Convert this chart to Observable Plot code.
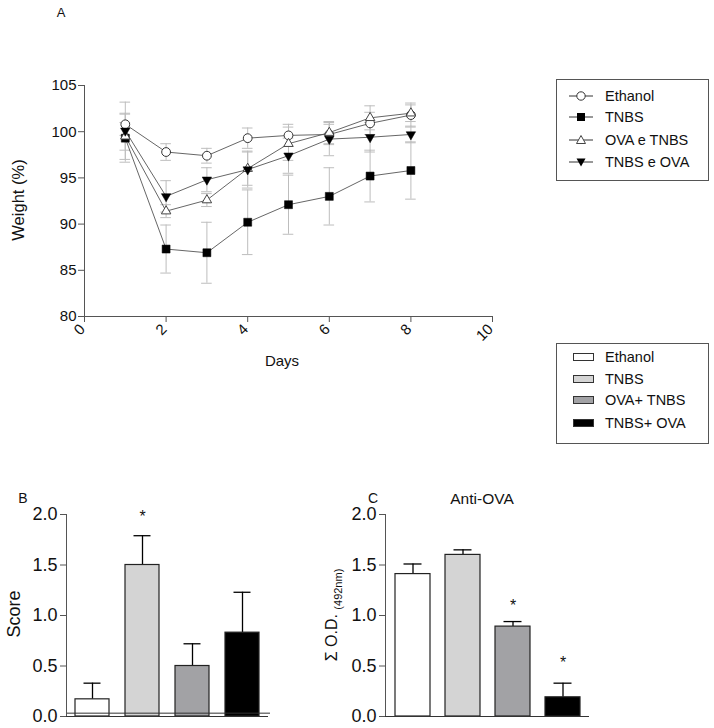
<!DOCTYPE html>
<html><head><meta charset="utf-8">
<script src="https://cdn.jsdelivr.net/npm/d3@7"></script>
<script src="https://cdn.jsdelivr.net/npm/@observablehq/plot@0.6"></script>
<style>
body{margin:0;background:#fff;font-family:"Liberation Sans",Arial,sans-serif;}
#root{position:relative;width:714px;height:728px;overflow:hidden;background:#fff;}
.abs{position:absolute;white-space:nowrap;color:#111;line-height:1;}
.ctr{transform:translate(-50%,-50%);}
.rot{transform:translate(-50%,-50%) rotate(-90deg);}
.legend{position:absolute;border:1px solid #555;box-sizing:border-box;background:#fff;}
.lrow{position:absolute;left:0;height:20px;width:100%;transform:translateY(-50%);}
.lrow svg{position:absolute;left:12px;top:2px;}
.lrow span{position:absolute;left:48px;top:2px;font-size:14.5px;color:#111;}
.sw{position:absolute;left:16px;top:6px;width:21px;height:8px;border:1px solid #333;box-sizing:border-box;}
svg.plot{position:absolute;overflow:visible;}
</style></head><body><div id="root"></div>
<script>
// ---------- Panel A data ----------
const days = [1, 2, 3, 4, 5, 6, 7, 8];
const weightSeries = ["Ethanol", "TNBS", "OVA e TNBS", "TNBS e OVA"];
const ethanolMean = [100.8, 97.8, 97.4, 99.3, 99.6, 99.7, 100.9, 101.8];
const ethanolSem  = [1.2, 0.9, 0.8, 1.1, 1.2, 1.1, 1.2, 1.3];
const tnbsMean    = [99.3, 87.3, 86.9, 90.2, 92.1, 93.0, 95.2, 95.8];
const tnbsSem     = [2.6, 2.6, 3.3, 3.5, 3.2, 3.1, 2.8, 3.1];
const ovaTnbsMean = [99.5, 91.4, 92.6, 96.0, 98.7, 99.9, 101.5, 102.0];
const ovaTnbsSem  = [1.5, 0.7, 0.7, 1.8, 1.8, 1.2, 1.3, 0.9];
const tnbsOvaMean = [100.1, 93.0, 94.8, 95.9, 97.4, 99.2, 99.4, 99.7];
const tnbsOvaSem  = [3.1, 1.7, 1.3, 2.0, 1.9, 1.8, 1.6, 0.9];
const weightTicks = [80, 85, 90, 95, 100, 105];
const dayTicks = [0, 2, 4, 6, 8, 10];

// ---------- Panels B/C data ----------
const barGroups = ["Ethanol", "TNBS", "OVA+ TNBS", "TNBS+ OVA"];
const barColors = ["#ffffff", "#d4d4d4", "#a2a2a5", "#000000"];
const scoreMean = [0.17, 1.50, 0.50, 0.83];
const scoreErr  = [0.16, 0.29, 0.22, 0.40];
const antiOvaMean = [1.41, 1.60, 0.89, 0.19];
const antiOvaErr  = [0.10, 0.05, 0.05, 0.14];
const barTicks = [0, 0.5, 1, 1.5, 2];
const scoreBaseline = [0.033];
const scoreStarGroups = ["TNBS"];
const scoreStarY = [1.98];
const antiOvaStarGroups = ["OVA+ TNBS", "TNBS+ OVA"];
const antiOvaStarY = [1.10, 0.535];

const FONT = '"Liberation Sans", Arial, sans-serif';
const AX = "#555";
const root = document.getElementById("root");

// ---------- Panel A ----------
const meansAll = [ethanolMean, tnbsMean, ovaTnbsMean, tnbsOvaMean];
const semsAll = [ethanolSem, tnbsSem, ovaTnbsSem, tnbsOvaSem];
const rows = [];
weightSeries.forEach((s, i) => days.forEach((d, j) => rows.push({series: s, day: d, mean: meansAll[i][j], sem: semsAll[i][j]})));
const bySeries = s => rows.filter(r => r.series === s);
const capHalf = 0.13;
const downTriangle = {
  draw(context, size) {
    const y = Math.sqrt(size / (Math.sqrt(3) * 3));
    context.moveTo(0, 2 * y);
    context.lineTo(-Math.sqrt(3) * y, -y);
    context.lineTo(Math.sqrt(3) * y, -y);
    context.closePath();
  }
};
const plotA = Plot.plot({
  width: 520, height: 370,
  marginLeft: 84, marginRight: 28, marginTop: 85, marginBottom: 54,
  x: {domain: [0, 10]},
  y: {domain: [80, 105]},
  style: {fontFamily: FONT, fontSize: "15px", color: "#111", background: "transparent"},
  marks: [
    Plot.ruleX(rows, {x: "day", y1: d => d.mean - d.sem, y2: d => d.mean + d.sem, stroke: "#bdbdbd", strokeWidth: 1}),
    Plot.ruleY(rows, {y: d => d.mean + d.sem, x1: d => d.day - capHalf, x2: d => d.day + capHalf, stroke: "#bdbdbd", strokeWidth: 1}),
    Plot.ruleY(rows, {y: d => d.mean - d.sem, x1: d => d.day - capHalf, x2: d => d.day + capHalf, stroke: "#bdbdbd", strokeWidth: 1}),
    Plot.line(rows, {x: "day", y: "mean", z: "series", stroke: "#555", strokeWidth: 0.9}),
    Plot.dot(bySeries("Ethanol"), {x: "day", y: "mean", symbol: "circle", r: 4.4, fill: "white", stroke: "#333", strokeWidth: 1}),
    Plot.dot(bySeries("TNBS"), {x: "day", y: "mean", symbol: "square", r: 4.5, fill: "#000", stroke: "#000", strokeWidth: 0.5}),
    Plot.dot(bySeries("OVA e TNBS"), {x: "day", y: "mean", symbol: "triangle", r: 3.5, fill: "white", stroke: "#444", strokeWidth: 1}),
    Plot.dot(bySeries("TNBS e OVA"), {x: "day", y: "mean", symbol: downTriangle, r: 3.5, fill: "#000", stroke: "#000", strokeWidth: 0.5}),
    Plot.frame({anchor: "left", stroke: AX}),
    Plot.frame({anchor: "bottom", stroke: AX}),
    Plot.axisY({ticks: weightTicks, tickSize: 6, tickPadding: 2, label: null, stroke: AX, fontSize: 15}),
    Plot.axisX({ticks: dayTicks, tickSize: 6, tickFormat: () => "", label: null, stroke: AX}),
    Plot.text(dayTicks, {x: d => d, text: d => String(d), frameAnchor: "bottom", dx: 1.5, dy: 13.5, rotate: -45, textAnchor: "end", fontSize: 15, fill: "#111"})
  ]
});
plotA.classList.add("plot");
plotA.style.left = "0px"; plotA.style.top = "0px";
root.appendChild(plotA);

// ---------- Bar panels ----------
function barPanel(means, errs, starGroups, starY, extra, opts) {
  const data = barGroups.map((g, i) => ({group: g, value: means[i], err: errs[i]}));
  const stars = starGroups.map((g, i) => ({group: g, y: starY[i]}));
  return Plot.plot({
    width: opts.width, height: 248,
    marginLeft: opts.left, marginRight: opts.right, marginTop: 34, marginBottom: 12,
    x: {domain: barGroups, paddingInner: opts.pi, paddingOuter: opts.po, align: 0.5},
    y: {domain: [0, 2]},
    color: {domain: barGroups, range: barColors},
    style: {fontFamily: FONT, fontSize: "18px", color: "#111", background: "transparent"},
    marks: [
      Plot.ruleX(data, {x: "group", y1: "value", y2: d => d.value + d.err, stroke: "#000", strokeWidth: 1.3}),
      Plot.tickY(data, {x: "group", y: d => d.value + d.err, insetLeft: 8.5, insetRight: 8.5, stroke: "#000", strokeWidth: 1.3}),
      Plot.barY(data, {x: "group", y: "value", fill: "group", stroke: "#222", strokeWidth: 1.2}),
      ...extra,
      Plot.text(stars, {x: "group", y: "y", text: () => "*", fontSize: 16, fill: "#111"}),
      Plot.frame({anchor: "left", stroke: AX}),
      Plot.ruleY([0], {stroke: "#333", strokeWidth: 1}),
      Plot.axisY({ticks: barTicks, tickFormat: ".1f", tickSize: 6, tickPadding: 3, label: null, stroke: AX, fontSize: 18}),
      Plot.axisX({ticks: [], label: null})
    ]
  });
}
const plotB = barPanel(scoreMean, scoreErr, scoreStarGroups, scoreStarY,
  [Plot.ruleY(scoreBaseline, {stroke: "#333", strokeWidth: 1, insetRight: -2})],
  {width: 300, left: 66, right: 32, pi: 0.33, po: 0.153});
plotB.classList.add("plot");
plotB.style.left = "0px"; plotB.style.top = "480px";
root.appendChild(plotB);

const plotC = barPanel(antiOvaMean, antiOvaErr, antiOvaStarGroups, antiOvaStarY, [],
  {width: 300, left: 45, right: 51, pi: 0.31, po: 0.157});
plotC.classList.add("plot");
plotC.style.left = "340px"; plotC.style.top = "480px";
root.appendChild(plotC);

// ---------- Labels ----------
function label(html, x, y, size, cls) {
  const d = document.createElement("div");
  d.className = "abs " + (cls || "ctr");
  d.style.left = x + "px"; d.style.top = y + "px";
  d.style.fontSize = size + "px";
  d.innerHTML = html;
  root.appendChild(d);
}
label("A", 61, 12, 13);
label("B", 23, 498, 14);
label("C", 373, 498, 14);
label("Weight (%)", 18, 200, 16.5, "rot");
label("Days", 282, 360, 15);
label("Score", 14, 614, 18, "rot");
label('&Sigma; O.D. <span style="font-size:11px;vertical-align:sub">(492nm)</span>', 334, 615, 16, "rot");
label("Anti-OVA", 482, 499, 15.5);

// ---------- Legends ----------
const markerSvg = [
  '<svg width="24" height="16"><line x1="0" y1="8" x2="24" y2="8" stroke="#333"/><circle cx="12" cy="8" r="4.2" fill="#fff" stroke="#333"/></svg>',
  '<svg width="24" height="16"><line x1="0" y1="8" x2="24" y2="8" stroke="#333"/><rect x="8" y="4" width="8" height="8" fill="#000"/></svg>',
  '<svg width="24" height="16"><line x1="0" y1="8" x2="24" y2="8" stroke="#333"/><path d="M12,3.5L16.5,11.5L7.5,11.5Z" fill="#fff" stroke="#444"/></svg>',
  '<svg width="24" height="16"><line x1="0" y1="8" x2="24" y2="8" stroke="#333"/><path d="M12,12.5L16.5,4.5L7.5,4.5Z" fill="#000"/></svg>'
];
const leg1 = document.createElement("div");
leg1.className = "legend";
Object.assign(leg1.style, {left: "556px", top: "79px", width: "153px", height: "102px"});
const leg1Y = [16, 37, 60, 82];
weightSeries.forEach((s, i) => {
  const r = document.createElement("div");
  r.className = "lrow"; r.style.top = leg1Y[i] + "px";
  r.innerHTML = markerSvg[i] + "<span>" + s + "</span>";
  leg1.appendChild(r);
});
root.appendChild(leg1);

const leg2 = document.createElement("div");
leg2.className = "legend";
Object.assign(leg2.style, {left: "556px", top: "343px", width: "153px", height: "101px"});
const leg2Y = [13, 35, 56, 79];
barGroups.forEach((g, i) => {
  const r = document.createElement("div");
  r.className = "lrow"; r.style.top = leg2Y[i] + "px";
  r.innerHTML = '<div class="sw" style="background:' + barColors[i] + '"></div><span>' + g + "</span>";
  leg2.appendChild(r);
});
root.appendChild(leg2);
</script></body></html>
